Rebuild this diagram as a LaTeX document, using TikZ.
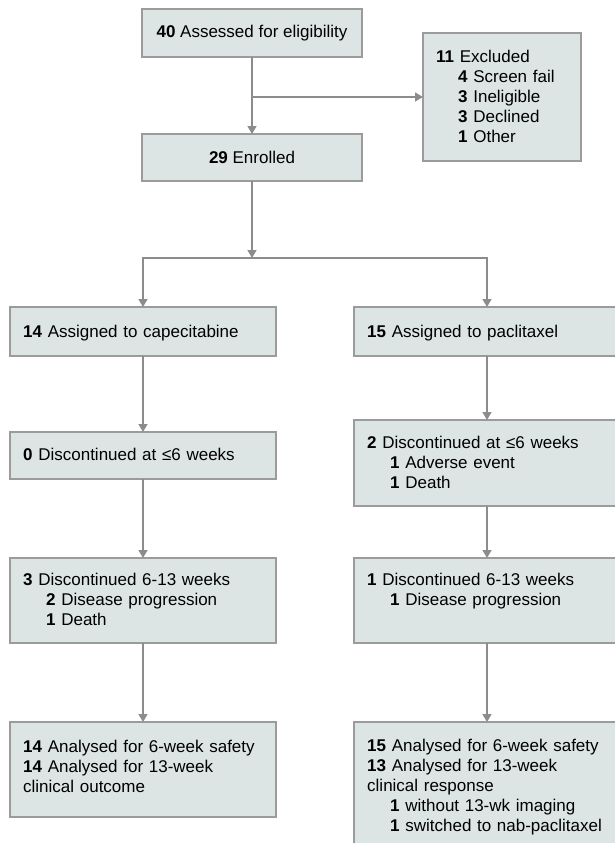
\documentclass[tikz,border=0pt]{standalone}
\usepackage{fontspec}
\setmainfont{Liberation Sans}
\usetikzlibrary{arrows.meta}
\definecolor{boxfill}{RGB}{220,228,228}
\definecolor{boxline}{RGB}{155,155,155}
\definecolor{arrowgray}{RGB}{140,140,140}
\begin{document}
\begin{tikzpicture}[x=1pt,y=-1pt,
  box/.style={draw=boxline, fill=boxfill, line width=1.3pt, inner sep=0pt, outer sep=0pt, anchor=north west, font=\fontsize{17}{20}\selectfont},
  txt/.style={anchor=base west, inner sep=0pt, text width=300pt, align=left, font=\fontsize{17}{20}\selectfont},
  conn/.style={draw=arrowgray, line width=1.5pt},
  arr/.style={conn, -{Triangle[width=9pt,length=8pt]}}
]
\useasboundingbox (0,0) rectangle (614,843);

% boxes
\node[box, minimum width=220pt, minimum height=48pt] (A) at (142,9) {\textbf{40} Assessed for eligibility};
\node[box, minimum width=158pt, minimum height=128pt] (Ex) at (423,33) {};
\node[box, minimum width=220pt, minimum height=47pt] (En) at (142,134) {\textbf{29} Enrolled};

\node[box, minimum width=266pt, minimum height=49pt] (L1) at (10,307) {};
\node[box, minimum width=266pt, minimum height=49pt] (R1) at (354,307) {};
\node[box, minimum width=266pt, minimum height=47pt] (L2) at (10,432) {};
\node[box, minimum width=266pt, minimum height=86pt] (R2) at (354,420) {};
\node[box, minimum width=266pt, minimum height=85pt] (L3) at (10,558) {};
\node[box, minimum width=266pt, minimum height=85pt] (R3) at (354,558) {};
\node[box, minimum width=266pt, minimum height=95pt] (L4) at (10,722) {};
\node[box, minimum width=266pt, minimum height=135pt] (R4) at (354,722) {};

% texts
\node[txt] (tEx) at ([xshift=13pt,yshift=-30pt]Ex.north west)
  {\textbf{11} Excluded\\
   \hspace*{22pt}\textbf{4} Screen fail\\
   \hspace*{22pt}\textbf{3} Ineligible\\
   \hspace*{22pt}\textbf{3} Declined\\
   \hspace*{22pt}\textbf{1} Other};
\node[txt] (tL1) at ([xshift=13pt,yshift=-30pt]L1.north west)
  {\textbf{14} Assigned to capecitabine};
\node[txt] (tR1) at ([xshift=13pt,yshift=-30pt]R1.north west)
  {\textbf{15} Assigned to paclitaxel};
\node[txt] (tL2) at ([xshift=13pt,yshift=-28pt]L2.north west)
  {\textbf{0} Discontinued at ≤6 weeks};
\node[txt] (tR2) at ([xshift=13pt,yshift=-28pt]R2.north west)
  {\textbf{2} Discontinued at ≤6 weeks\\
   \hspace*{23pt}\textbf{1} Adverse event\\
   \hspace*{23pt}\textbf{1} Death};
\node[txt] (tL3) at ([xshift=13pt,yshift=-27pt]L3.north west)
  {\textbf{3} Discontinued 6-13 weeks\\
   \hspace*{23pt}\textbf{2} Disease progression\\
   \hspace*{23pt}\textbf{1} Death};
\node[txt] (tR3) at ([xshift=13pt,yshift=-27pt]R3.north west)
  {\textbf{1} Discontinued 6-13 weeks\\
   \hspace*{23pt}\textbf{1} Disease progression};
\node[txt] (tL4) at ([xshift=13pt,yshift=-30pt]L4.north west)
  {\textbf{14} Analysed for 6-week safety\\
   \textbf{14} Analysed for 13-week\\
   clinical outcome};
\node[txt] (tR4) at ([xshift=13pt,yshift=-29pt]R4.north west)
  {\textbf{15} Analysed for 6-week safety\\
   \textbf{13} Analysed for 13-week\\
   clinical response\\
   \hspace*{23pt}\textbf{1} without 13-wk imaging\\
   \hspace*{23pt}\textbf{1} switched to nab-paclitaxel};

% connectors
\coordinate (exj) at (A.south |- Ex.west);
\coordinate (brj) at (252,258);
\draw[arr] (A) -- (En);
\draw[arr] (exj) -- (Ex.west);
\draw[arr] (En) -- (brj);
\draw[arr] (brj) -| (L1.north);
\draw[arr] (brj) -| (R1.north);
\draw[arr] (L1) -- (L2);
\draw[arr] (L2) -- (L3);
\draw[arr] (L3) -- (L4);
\draw[arr] (R1) -- (R2);
\draw[arr] (R2) -- (R3);
\draw[arr] (R3) -- (R4);
\end{tikzpicture}
\end{document}
